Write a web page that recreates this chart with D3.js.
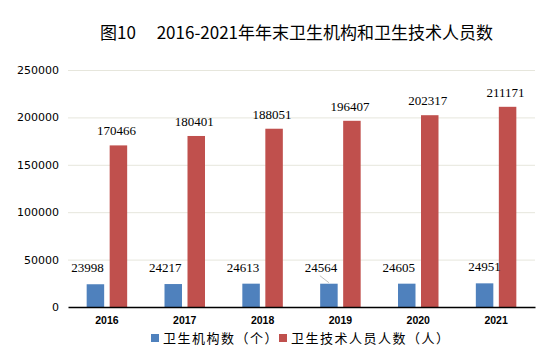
<!DOCTYPE html>
<html>
<head>
<meta charset="utf-8">
<style>
  body { margin: 0; background: #fff; }
  svg { display: block; }
  .title { font: 17px "Noto Sans CJK SC", sans-serif; fill: #000; }
  .axis--y text { font: 11px "DejaVu Sans", sans-serif; fill: #000; }
  .axis--x text { font: bold 10.5px "Liberation Sans", sans-serif; fill: #000; }
  .grid line { stroke: #e6e6dc; stroke-width: 1; }
  .val { font: 13px "Liberation Serif", serif; fill: #000; text-anchor: middle; }
  .legend text { font: 13px "Noto Sans CJK SC", sans-serif; fill: #000; letter-spacing: 1.5px; }
</style>
</head>
<body>
<svg width="554" height="353"></svg>
<script src="https://d3js.org/d3.v7.min.js"></script>
<script>

// data
var years = ["2016", "2017", "2018", "2019", "2020", "2021"];
var institutions = [23998, 24217, 24613, 24564, 24605, 24951];
var technicians = [170466, 180401, 188051, 196407, 202317, 211171];
var yTicks = [0, 50000, 100000, 150000, 200000, 250000];
var seriesNames = ["卫生机构数（个）", "卫生技术人员人数（人）"];
var leaderYears = ["2019"];

var svg = d3.select("svg"),
    margin = {top: 70, right: 19, bottom: 46, left: 68},
    width = +svg.attr("width") - margin.left - margin.right,
    height = +svg.attr("height") - margin.top - margin.bottom;

var colors = ["#4f81bd", "#c0504d"];

svg.append("text")
  .attr("class", "title")
  .attr("x", 100)
  .attr("y", 39)
  .text("图10\u2003\u00a02016-2021年年末卫生机构和卫生技术人员数");

var g = svg.append("g")
  .attr("transform", "translate(" + margin.left + "," + margin.top + ")");

var x = d3.scaleBand().domain(years).range([0, width]);
var y = d3.scaleLinear().domain([0, 250000]).range([height, 0]);

// gridlines
g.append("g").attr("class", "grid")
  .selectAll("line")
  .data(yTicks.slice(1))
  .enter().append("line")
    .attr("x1", 0).attr("x2", width)
    .attr("y1", function(d) { return y(d) + 0.5 })
    .attr("y2", function(d) { return y(d) + 0.5 });

// y axis
var gy = g.append("g").attr("class", "axis axis--y")
  .call(d3.axisLeft(y).tickValues(yTicks).tickSize(0).tickPadding(9).tickFormat(d3.format("d")));
gy.select(".domain").remove();

var barW = 17.5, off = 11.5;

var rows = years.map(function(d, i) { return {year: d, a: institutions[i], b: technicians[i]} });

var cat = g.selectAll(".cat").data(rows).enter().append("g")
  .attr("class", "cat")
  .attr("transform", function(d) { return "translate(" + (x(d.year) + x.bandwidth() / 2) + ",0)" });

cat.append("rect")
  .attr("x", -off - barW / 2)
  .attr("width", barW)
  .attr("y", function(d) { return y(d.a) })
  .attr("height", function(d) { return height - y(d.a) })
  .attr("fill", colors[0]);

cat.append("rect")
  .attr("x", off - barW / 2)
  .attr("width", barW)
  .attr("y", function(d) { return y(d.b) })
  .attr("height", function(d) { return height - y(d.b) })
  .attr("fill", colors[1]);

// value labels
cat.append("text")
  .attr("class", "val")
  .attr("x", function(d, i) { return i == years.length - 1 ? -off : -off - 8 })
  .attr("y", function(d) { return y(d.a) - 12 })
  .text(function(d) { return d.a });

cat.append("text")
  .attr("class", "val")
  .attr("x", off - 2)
  .attr("y", function(d) { return y(d.b) - 10 })
  .text(function(d) { return d.b });

cat.filter(function(d) { return leaderYears.indexOf(d.year) >= 0 })
  .append("line")
  .attr("x1", -off - 9).attr("y1", function(d) { return y(d.a) - 8 })
  .attr("x2", -off).attr("y2", function(d) { return y(d.a) - 1 })
  .attr("stroke", "#bfbfbf").attr("stroke-width", 1);

// x axis
var gx = g.append("g").attr("class", "axis axis--x")
  .attr("transform", "translate(0," + height + ")")
  .call(d3.axisBottom(x).tickSize(0).tickPadding(10));
gx.select(".domain").attr("stroke", "#000").attr("stroke-width", 1.5);

// legend
var legend = svg.append("g").attr("class", "legend")
  .attr("transform", "translate(151,334)");
var lx = [0, 128];
seriesNames.forEach(function(name, i) {
  var item = legend.append("g").attr("transform", "translate(" + lx[i] + ",0)");
  item.append("rect").attr("width", 8).attr("height", 8).attr("fill", colors[i]);
  item.append("text").attr("x", 12).attr("y", 9).text(name);
});

</script>
</body>
</html>
